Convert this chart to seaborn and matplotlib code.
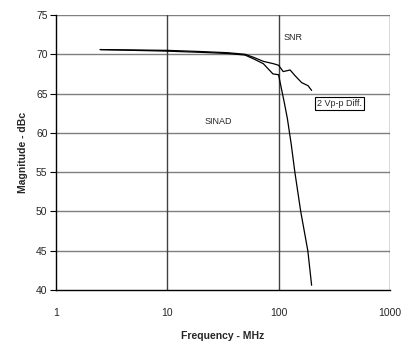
import numpy as np
import pandas as pd
import matplotlib
matplotlib.use("Agg")
import matplotlib.pyplot as plt
import seaborn as sns

# Frequency (MHz) and magnitude (dBc)
snr_freq = [2.5, 5, 10, 20, 35, 50, 60, 73, 90, 100, 110, 127, 140, 161, 184, 198]
snr_db = [70.6, 70.55, 70.5, 70.35, 70.2, 70.0, 69.6, 69.1, 68.8, 68.6, 67.8, 68.0, 67.3, 66.4, 66.0, 65.4]

sinad_freq = [2.5, 5, 10, 20, 35, 50, 60, 73, 89, 100, 104, 112, 120, 130, 140, 158, 183, 198]
sinad_db = [70.6, 70.5, 70.4, 70.25, 70.1, 69.9, 69.4, 68.8, 67.5, 67.4, 66.2, 64.0, 61.8, 58.5, 55.0, 50.0, 45.0, 40.6]

x_ticks = [1, 10, 100, 1000]
y_ticks = [40, 45, 50, 55, 60, 65, 70, 75]

df = pd.concat([
    pd.DataFrame({"freq": snr_freq, "db": snr_db, "curve": "SNR"}),
    pd.DataFrame({"freq": sinad_freq, "db": sinad_db, "curve": "SINAD"}),
])

sns.set_theme(style="white")
plt.rcParams["font.family"] = ["Liberation Sans", "DejaVu Sans"]

fig = plt.figure(figsize=(4.02, 3.41), dpi=100)
ax = fig.add_axes([0.139, 0.1496, 0.831, 0.8064])

sns.lineplot(data=df, x="freq", y="db", units="curve", estimator=None,
             color="black", linewidth=0.9, sort=False, ax=ax, legend=False)

ax.set_xscale("log")
ax.set_xlim(1, 1000)
ax.set_ylim(40, 75)
ax.set_xticks(x_ticks)
ax.set_xticklabels([str(t) for t in x_ticks])
ax.set_yticks(y_ticks)
ax.minorticks_off()

for y in y_ticks[1:]:
    ax.axhline(y, color="#7f7f7f", linewidth=1.0, zorder=0)
for x in x_ticks[1:]:
    ax.axvline(x, color="#404040", linewidth=1.0, zorder=0)

for s in ["top", "right"]:
    ax.spines[s].set_visible(False)
for s in ["left", "bottom"]:
    ax.spines[s].set_color("black")
    ax.spines[s].set_linewidth(1.0)

ax.tick_params(axis="y", which="major", left=True, length=4, width=0.8,
               color="black", labelsize=7.5, pad=2)
ax.tick_params(axis="x", which="major", bottom=False, labelsize=7.5, pad=7)

ax.set_xlabel("Frequency - MHz", fontsize=7.5, fontweight="bold", labelpad=9)
ax.set_ylabel("Magnitude - dBc", fontsize=7.5, fontweight="bold", labelpad=6)

ax.text(136, 72.2, "SNR", fontsize=6.5, ha="center", va="center")
ax.text(28.6, 61.4, "SINAD", fontsize=6.5, ha="center", va="center")
ax.text(221, 63.7, "2 Vp-p Diff.", fontsize=6.5, ha="left", va="center",
        bbox=dict(boxstyle="square,pad=0.2", facecolor="white",
                  edgecolor="black", linewidth=0.8))

fig.savefig("out.png", dpi=100)
